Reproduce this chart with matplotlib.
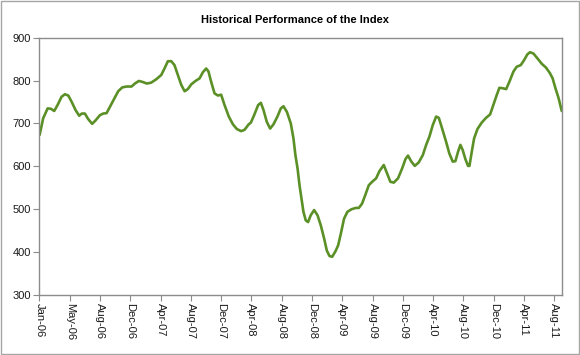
import matplotlib
matplotlib.use("Agg")
import matplotlib.pyplot as plt
from matplotlib.patches import Rectangle

weeks = [0.1, 2.1, 4.6, 6.5, 8.3, 10.2, 12.4, 14.3, 16.2, 18.0, 20.3, 22.3, 23.8,
         25.5, 27.4, 29.6, 31.5, 33.9, 35.8, 37.7, 39.6, 42.0, 44.2, 46.5, 48.9,
         51.7, 53.6, 55.8, 57.7, 60.3, 62.7, 65.6, 68.4, 70.2, 72.1, 74.0, 75.8,
         77.7, 79.6, 81.5, 83.3, 85.2, 87.6, 89.9, 91.7, 93.6, 94.9, 96.4, 98.3,
         100.2, 102.0, 103.9, 106.3, 108.6, 110.8, 113.2, 115.1, 117.5, 118.7,
         120.5, 122.8, 124.3, 125.8, 127.6, 129.5, 131.4, 133.6, 135.5, 137.0,
         138.9, 141.1, 142.6, 143.7, 144.9, 146.0, 147.1, 148.2, 149.5, 150.8,
         152.3, 154.2, 156.1, 157.9, 159.8, 161.3, 162.8, 164.3, 166.2, 167.7,
         169.2, 171.0, 172.9, 175.2, 177.6, 179.3, 181.1, 183.0, 184.9, 186.8,
         189.0, 190.9, 193.3, 195.2, 197.0, 198.9, 201.3, 203.6, 205.5, 206.9,
         208.8, 210.7, 212.9, 215.2, 217.1, 218.9, 220.8, 222.7, 224.2, 226.0,
         228.3, 230.1, 232.0, 233.5, 235.0, 236.3, 237.6, 239.1, 240.6, 241.4,
         242.7, 244.0, 245.9, 248.3, 250.7, 253.0, 254.8, 256.7, 258.2, 260.1,
         262.0, 263.8, 266.1, 267.9, 270.2, 272.0, 273.9, 275.4, 277.3, 279.5,
         282.0, 284.4, 286.6, 288.1, 289.6, 291.5, 293.2]
index_level = [673, 712, 735, 734, 729, 743, 762, 768, 765, 751, 731, 718, 723,
               723, 710, 699, 707, 719, 723, 724, 739, 758, 775, 784, 786,
               786, 793, 799, 797, 793, 795, 803, 813, 828, 845, 845, 836,
               813, 790, 775, 780, 791, 799, 805, 819, 828, 821, 797, 770,
               765, 767, 743, 716, 698, 687, 682, 685, 698, 702,
               719, 743, 748, 731, 704, 688, 698, 716, 735, 740,
               727, 700, 665, 626, 595, 556, 525, 494, 474, 470,
               486, 498, 486, 463, 432, 404, 391, 389, 402, 416,
               443, 478, 494, 500, 503, 503, 513, 534, 556, 564,
               572, 589, 603, 583, 564, 562, 572, 595, 617, 625,
               611, 601, 609, 626, 650, 669, 696, 716, 713, 689,
               657, 630, 611, 612, 634, 650, 638, 617, 601, 601,
               634, 665, 687, 702, 713, 721, 743, 766, 783, 782,
               780, 797, 821, 832, 836, 847, 861, 866, 863, 852,
               839, 830, 817, 805, 783, 758, 729]

tick_weeks = [0, 17, 34, 51, 68, 85, 102, 119, 136, 153, 170, 187, 204, 221,
              238, 255, 272, 289]
tick_labels = ["Jan-06", "May-06", "Aug-06", "Dec-06", "Apr-07", "Aug-07",
               "Dec-07", "Apr-08", "Aug-08", "Dec-08", "Apr-09", "Aug-09",
               "Dec-09", "Apr-10", "Aug-10", "Dec-10", "Apr-11", "Aug-11"]

plt.rcParams["font.family"] = ["Liberation Sans", "DejaVu Sans"]

fig = plt.figure(figsize=(5.8, 3.55), dpi=100)
ax = fig.add_axes([0.068, 0.169, 0.9005, 0.725])

ax.plot(weeks, index_level, color="#5b9027", linewidth=1.9,
        solid_joinstyle="round", solid_capstyle="round")

ax.set_xlim(0, 293.2)
ax.set_ylim(300, 900)
ax.set_yticks(range(300, 901, 100))
ax.set_xticks(tick_weeks)
ax.set_xticklabels(tick_labels, rotation=-90, va="top", ha="center")

for s in ax.spines.values():
    s.set_color("#8c8c8c")
    s.set_linewidth(1.0)
ax.tick_params(axis="both", direction="out", length=4, width=0.8,
               color="#8c8c8c", labelsize=8, labelcolor="#1a1a1a", pad=2)

fig.text(0.509, 0.944, "Historical Performance of the Index", ha="center",
         va="center", fontsize=8, fontweight="bold")

# outer chart border
fig.patches.append(Rectangle((0.0015, 0.0025), 0.997, 0.995, transform=fig.transFigure,
                             fill=False, edgecolor="#a6a6a6", linewidth=1.0))

fig.savefig("out.png", dpi=100)
